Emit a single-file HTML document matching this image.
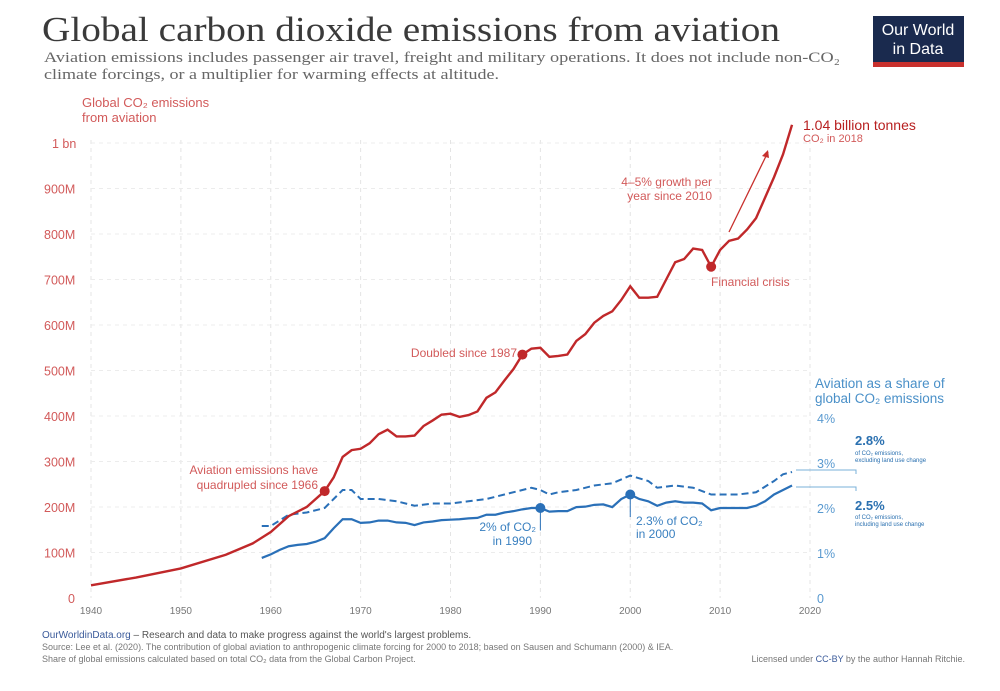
<!DOCTYPE html>
<html><head><meta charset="utf-8">
<style>
body{margin:0;background:#fff;width:1000px;height:686px;overflow:hidden;font-family:"Liberation Sans",sans-serif}
</style></head><body>
<svg id="s" width="1000" height="686" xmlns="http://www.w3.org/2000/svg" font-family="Liberation Sans, sans-serif">
<text x="42" y="41" font-family="Liberation Serif, serif" font-size="35" fill="#3a3a3a" textLength="738" lengthAdjust="spacingAndGlyphs">Global carbon dioxide emissions from aviation</text>
<text x="44" y="62" font-family="Liberation Serif, serif" font-size="15" fill="#666" textLength="796" lengthAdjust="spacingAndGlyphs">Aviation emissions includes passenger air travel, freight and military operations. It does not include non-CO₂</text>
<text x="44" y="79" font-family="Liberation Serif, serif" font-size="15" fill="#666" textLength="455" lengthAdjust="spacingAndGlyphs">climate forcings, or a multiplier for warming effects at altitude.</text>
<rect x="873" y="16" width="91" height="50" fill="#1a2a4e"/>
<rect x="873" y="62" width="91" height="5" fill="#c8302d"/>
<text x="918" y="35" font-size="16" fill="#fff" text-anchor="middle">Our World</text>
<text x="918" y="54" font-size="16" fill="#fff" text-anchor="middle">in Data</text>
<text x="82" y="107" font-size="13" fill="#d25a5a">Global CO₂ emissions</text>
<text x="82" y="122" font-size="13" fill="#d25a5a">from aviation</text>
<g id="grid"></g>
<g id="lines"></g>
<text x="815" y="388" font-size="13.5" fill="#4a90c8">Aviation as a share of</text>
<text x="815" y="403" font-size="13.5" fill="#4a90c8">global CO₂ emissions</text>
<text x="803" y="130" font-size="14" fill="#b82020">1.04  billion tonnes</text>
<text x="803" y="142" font-size="11" fill="#d25a5a">CO₂ in 2018</text>
<line x1="729" y1="232" x2="768" y2="152" stroke="#c8302d" stroke-width="1.3"/>
<path d="M768,150 L762,156 L769,158Z" fill="#c8302d"/>
<text x="712" y="186" font-size="12" fill="#d25a5a" text-anchor="end">4–5% growth per</text>
<text x="712" y="200" font-size="12" fill="#d25a5a" text-anchor="end">year since 2010</text>
<text x="711" y="286" font-size="12" fill="#d25a5a">Financial crisis</text>
<text x="517" y="357" font-size="12" fill="#d25a5a" text-anchor="end">Doubled since 1987</text>
<text x="318" y="474" font-size="12" fill="#d25a5a" text-anchor="end">Aviation emissions have</text>
<text x="318" y="489" font-size="12" fill="#d25a5a" text-anchor="end">quadrupled since 1966</text>
<text x="536" y="531" font-size="12" fill="#3a80c0" text-anchor="end">2% of CO₂</text>
<text x="532" y="545" font-size="12" fill="#3a80c0" text-anchor="end">in 1990</text>
<text x="636" y="525" font-size="12" fill="#3a80c0">2.3% of CO₂</text>
<text x="636" y="538" font-size="12" fill="#3a80c0">in 2000</text>
<polyline points="796,470 856,470 856,474" fill="none" stroke="#7ab0d8" stroke-width="1"/>
<polyline points="796,487 856,487 856,491" fill="none" stroke="#7ab0d8" stroke-width="1"/>
<text x="855" y="445" font-size="13" font-weight="bold" fill="#2a70b0">2.8%</text>
<text x="855" y="455" font-size="6" fill="#2a70b0">of CO₂ emissions,</text>
<text x="855" y="462" font-size="6" fill="#2a70b0">excluding land use change</text>
<text x="855" y="510" font-size="13" font-weight="bold" fill="#2a70b0">2.5%</text>
<text x="855" y="519" font-size="6" fill="#2a70b0">of CO₂ emissions,</text>
<text x="855" y="526" font-size="6" fill="#2a70b0">including land use change</text>
<text x="42" y="638" font-size="10" fill="#555"><tspan fill="#3a5a9a">OurWorldinData.org</tspan> – Research and data to make progress against the world's largest problems.</text>
<text x="42" y="650" font-size="9" fill="#777">Source: Lee et al. (2020). The contribution of global aviation to anthropogenic climate forcing for 2000 to 2018; based on Sausen and Schumann (2000) &amp; IEA.</text>
<text x="42" y="662" font-size="9" fill="#777">Share  of global emissions calculated based on total CO₂  data from the Global Carbon Project.</text>
<text x="965" y="662" font-size="9" fill="#777" text-anchor="end">Licensed under <tspan fill="#3a5a9a">CC-BY</tspan> by the author Hannah Ritchie.</text>
</svg>
<script>
const NS="http://www.w3.org/2000/svg";
const X=y=>91+(y-1940)*8.9875, Y=v=>598-v*0.455, P=p=>598-p*45;
function el(t,a,p){const e=document.createElementNS(NS,t);for(const k in a)e.setAttribute(k,a[k]);if(a.text)e.textContent=a.text;document.getElementById(p).appendChild(e);return e;}
for(let y=1940;y<=2020;y+=10){el('line',{x1:X(y),x2:X(y),y1:140,y2:598,stroke:'#e4e4e4','stroke-dasharray':'4,4'},'grid');
 el('text',{x:X(y),y:614,'font-size':10,fill:'#777','text-anchor':'middle',text:y},'grid');}
const yl=['0','100M','200M','300M','400M','500M','600M','700M','800M','900M','1 bn'];
for(let i=0;i<=10;i++){const yy=Y(i*100);
 if(i>0)el('line',{x1:91,x2:810,y1:yy,y2:yy,stroke:'#ececec','stroke-dasharray':'4,4'},'grid');
 el('text',{x:i==10?52:i==0?68:44,y:yy+5,'font-size':12.5,fill:'#d25a5a',text:yl[i]},'grid');}
['0','1%','2%','3%','4%'].forEach((t,i)=>el('text',{x:817,y:P(i)+5,'font-size':12.5,fill:'#5a9ad0',text:t},'grid'));
const red={1940:28,1945:45,1950:65,1955:95,1958:120,1960:145,1962:180,1964:200,1966:235,1967:265,1968:310,1969:325,1970:328,1971:340,1972:360,1973:370,1974:355,1975:355,1976:357,1977:378,1978:390,1979:403,1980:405,1981:398,1982:402,1983:410,1984:440,1985:452,1986:478,1987:503,1988:535,1989:548,1990:550,1991:530,1992:532,1993:535,1994:565,1995:580,1996:605,1997:620,1998:630,1999:655,2000:685,2001:660,2002:660,2003:662,2004:700,2005:738,2006:745,2007:768,2008:765,2009:728,2010:765,2011:785,2012:790,2013:810,2014:835,2015:880,2016:925,2017:975,2018:1040};
const sol=[0.89,0.97,1.07,1.15,1.18,1.2,1.25,1.33,1.55,1.75,1.75,1.67,1.68,1.72,1.72,1.68,1.67,1.62,1.68,1.7,1.73,1.74,1.75,1.77,1.78,1.85,1.85,1.9,1.93,1.97,2.0,2.0,1.92,1.93,1.93,2.02,2.03,2.07,2.08,2.02,2.2,2.3,2.2,2.15,2.05,2.12,2.15,2.12,2.12,2.1,1.95,2.0,2.0,2.0,2.0,2.05,2.15,2.3,2.4,2.5];
const dsh={1959:1.6,1960:1.6,1962:1.85,1964:1.9,1966:2.0,1967:2.2,1968:2.4,1969:2.4,1970:2.2,1972:2.2,1974:2.15,1976:2.05,1978:2.1,1980:2.1,1982:2.15,1984:2.2,1986:2.3,1988:2.4,1989:2.45,1990:2.4,1991:2.3,1992:2.35,1994:2.4,1996:2.5,1998:2.55,2000:2.72,2002:2.6,2003:2.45,2005:2.5,2007:2.45,2009:2.3,2012:2.3,2014:2.35,2016:2.6,2017:2.75,2018:2.8};
el('polyline',{points:Object.entries(dsh).map(([y,v])=>X(+y)+','+P(v)).join(' '),fill:'none',stroke:'#2a70b8','stroke-width':2,'stroke-dasharray':'7,4'},'lines');
el('polyline',{points:sol.map((v,i)=>X(1959+i)+','+P(v)).join(' '),fill:'none',stroke:'#2a70b8','stroke-width':2.2},'lines');
el('polyline',{points:Object.entries(red).map(([y,v])=>X(+y)+','+Y(v)).join(' '),fill:'none',stroke:'#c0282a','stroke-width':2.4},'lines');
[[1966,235],[1988,535],[2009,728]].forEach(([y,v])=>el('circle',{cx:X(y),cy:Y(v),r:5,fill:'#c0282a'},'lines'));
[[1990,2.0],[2000,2.3]].forEach(([y,v])=>el('circle',{cx:X(y),cy:P(v),r:5,fill:'#2a70b8'},'lines'));
el('line',{x1:X(1990),x2:X(1990),y1:P(2.0),y2:P(1.5),stroke:'#2a70b8'},'lines');
el('line',{x1:X(2000),x2:X(2000),y1:P(2.3),y2:P(1.8),stroke:'#2a70b8'},'lines');
</script>
</body></html>
